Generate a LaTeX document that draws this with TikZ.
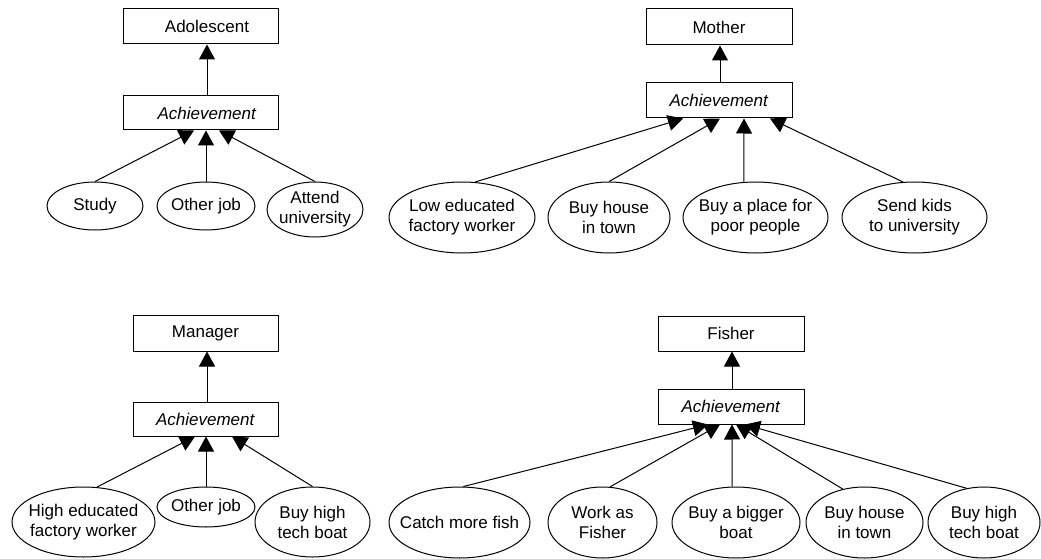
\documentclass[tikz,border=0pt]{standalone}
\usepackage{fontspec}
\setmainfont{Liberation Sans}
\usetikzlibrary{arrows.meta,shapes.geometric}

\tikzset{
  every node/.style={font=\fontsize{17}{20}\selectfont},
  box/.style={draw, rectangle, line width=1pt, inner sep=0pt},
  goal/.style={draw, ellipse, line width=1pt, align=center,
               inner xsep=-12pt, inner ysep=-6pt},
  link/.style={line width=1pt, -{Triangle[length=15pt,width=16pt]}},
}

\begin{document}
\begin{tikzpicture}[x=1pt,y=-1pt]
\useasboundingbox (0,0) rectangle (1041,559);

% ---------------- Adolescent ----------------
\node[box, minimum width=155pt, minimum height=35pt] (ado)  at (200.5,26.5) {\hspace*{13pt}Adolescent};
\node[box, minimum width=155pt, minimum height=34pt] (ach1) at (200.5,113) {\hspace*{13pt}\textit{Achievement}};
\node[goal, minimum width=96pt, minimum height=48pt] (study)  at (95,206)    {Study};
\node[goal, minimum width=98pt, minimum height=48pt] (oj1)    at (206,206)   {Other job};
\node[goal, minimum width=96pt, minimum height=55pt] (attend) at (315,209.5) {Attend\\university};

\draw[link] ([xshift=6.5pt]ach1.north) -- ([xshift=6.5pt]ado.south);
\draw[link] (study.north)  -- ([xshift=-6.5pt]ach1.south);
\draw[link] (oj1.north)    -- ([xshift=5.5pt]ach1.south);
\draw[link] (attend.north) -- ([xshift=18.5pt]ach1.south);

% ---------------- Mother ----------------
\node[box, minimum width=146pt, minimum height=36pt] (mother) at (719,27)    {Mother};
\node[box, minimum width=146pt, minimum height=35pt] (ach2)   at (719,100.5) {\textit{Achievement}};
\node[goal, minimum width=146pt, minimum height=71pt] (low)    at (462,217.5)   {Low educated\\factory worker};
\node[goal, minimum width=122pt, minimum height=71pt] (house2) at (609,217.5)   {Buy house\\in town};
\node[goal, minimum width=145pt, minimum height=71pt] (place)  at (755.5,217.5) {Buy a place for\\poor people};
\node[goal, minimum width=145pt, minimum height=71pt] (kids)   at (914.5,217.5) {Send kids\\to university};

\draw[link] ([xshift=1pt]ach2.north) -- ([xshift=1pt]mother.south);
\draw[link] (low.70)      -- ([xshift=-36pt]ach2.south);
\draw[link] (house2.north) -- ([xshift=1pt]ach2.south);
\draw[link] (place.108)   -- ([xshift=25pt]ach2.south);
\draw[link] (kids.108)    -- ([xshift=51pt]ach2.south);

% ---------------- Manager ----------------
\node[box, minimum width=145pt, minimum height=36pt] (manager) at (205.5,333) {Manager};
\node[box, minimum width=145pt, minimum height=34pt] (ach3)    at (205.5,419) {\textit{Achievement}};
\node[goal, minimum width=143pt, minimum height=70pt] (high)  at (83.5,522)  {High educated\\factory worker};
\node[goal, minimum width=98pt,  minimum height=40pt] (oj3)   at (206,507)   {Other job};
\node[goal, minimum width=115pt, minimum height=70pt] (boat3) at (312.5,522) {Buy high\\tech boat};

\draw[link] ([xshift=1.5pt]ach3.north) -- ([xshift=1.5pt]manager.south);
\draw[link] (high.69)    -- ([xshift=-10.5pt]ach3.south);
\draw[link] (oj3.north)  -- ([xshift=0.5pt]ach3.south);
\draw[link] (boat3.north) -- ([xshift=26.5pt]ach3.south);

% ---------------- Fisher ----------------
\node[box, minimum width=146pt, minimum height=35pt] (fisher) at (731,333.5) {Fisher};
\node[box, minimum width=146pt, minimum height=35pt] (ach4)   at (731,406.5) {\textit{Achievement}};
\node[goal, minimum width=141pt, minimum height=71pt] (catch)  at (459.5,522.5) {Catch more fish};
\node[goal, minimum width=109pt, minimum height=71pt] (work)   at (602.5,522.5) {Work as\\Fisher};
\node[goal, minimum width=128pt, minimum height=71pt] (bigger) at (736,522.5)   {Buy a bigger\\boat};
\node[goal, minimum width=117pt, minimum height=71pt] (house4) at (864.5,522.5) {Buy house\\in town};
\node[goal, minimum width=112pt, minimum height=71pt] (tech4)  at (984,522.5)   {Buy high\\tech boat};

\draw[link] ([xshift=1pt]ach4.north) -- ([xshift=1pt]fisher.south);
\draw[link] (catch.84)   -- ([xshift=-23pt]ach4.south);
\draw[link] (work.78)    -- ([xshift=-11pt]ach4.south);
\draw[link] (bigger.96)  -- ([xshift=1pt]ach4.south);
\draw[link] (house4.123) -- ([xshift=5pt]ach4.south);
\draw[link] (tech4.117)  -- ([xshift=14pt]ach4.south);
\end{tikzpicture}
\end{document}
